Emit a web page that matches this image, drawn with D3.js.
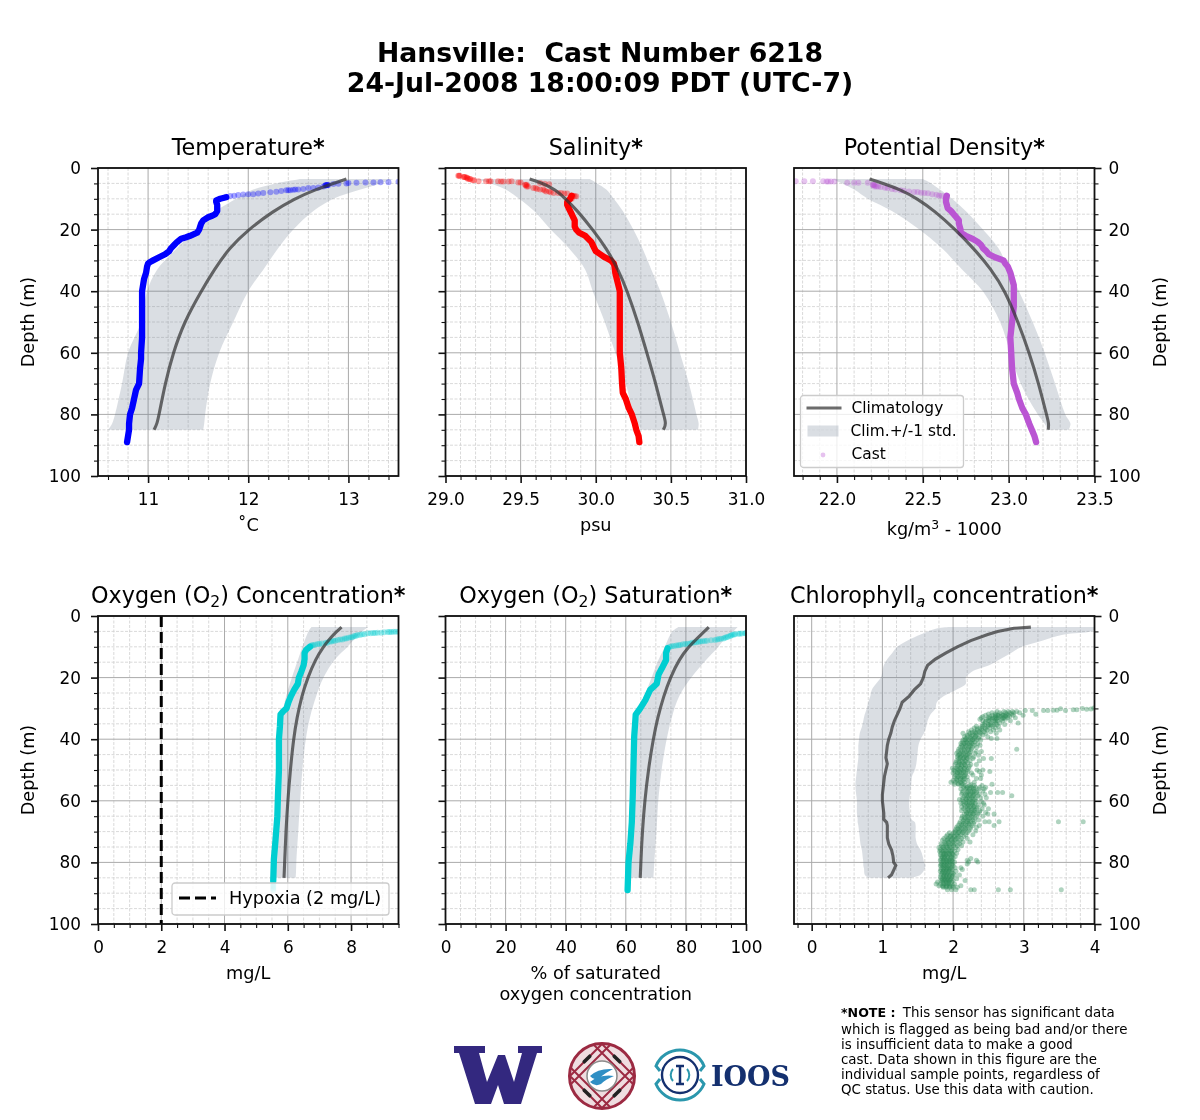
<!DOCTYPE html>
<html>
<head>
<meta charset="utf-8">
<script src="https://cdn.jsdelivr.net/npm/d3@7"></script>
<style>
  body { margin: 0; background: #fff; }
  text { font-family: "DejaVu Sans", sans-serif; fill: #000; }
  .domain { display: none; }
</style>
</head>
<body>
<div id="chart"></div>
<script>
// climatology depths shared by the first five panels
var climDepth = [3.6, 5, 7, 10, 14, 20, 26, 33, 40, 50, 60, 70, 80, 83, 85];

var tempMean = [12.98, 12.85, 12.67, 12.46, 12.25, 12.0, 11.81, 11.66, 11.53, 11.36, 11.25, 11.17, 11.11, 11.09, 11.06];
var tempLow = [12.52, 12.28, 12.05, 11.88, 11.68, 11.48, 11.29, 11.09, 10.99, 10.93, 10.8, 10.74, 10.67, 10.64, 10.6];
var tempHigh = [13.45, 13.32, 13.12, 12.85, 12.65, 12.45, 12.3, 12.15, 12.0, 11.85, 11.71, 11.62, 11.57, 11.56, 11.55];
var tempCastDepth = [9.5, 10, 10.5, 11, 12, 14, 15, 15.5, 16, 17, 18, 19, 20, 21, 22, 22.5, 23, 24, 25, 26, 27, 28, 29, 30, 30.5, 31, 32, 34, 36, 38, 40, 45, 50, 55, 60, 62, 65, 70, 72, 75, 78, 80, 83, 85, 87, 89];
var tempCast = [11.78, 11.72, 11.68, 11.68, 11.69, 11.69, 11.67, 11.64, 11.6, 11.55, 11.53, 11.52, 11.51, 11.49, 11.42, 11.38, 11.33, 11.29, 11.26, 11.23, 11.21, 11.17, 11.11, 11.05, 11.02, 11.0, 10.99, 10.98, 10.96, 10.95, 10.94, 10.94, 10.94, 10.94, 10.93, 10.93, 10.92, 10.91, 10.88, 10.86, 10.84, 10.82, 10.81, 10.81, 10.8, 10.79];
var tempSurfDepth = [4.5, 4.6, 4.6, 4.7, 4.7, 4.8, 4.9, 5, 5.1, 5.2, 5.5, 5.5, 5.5, 5.6, 5.6, 5.6, 5.7, 6, 6.3, 6.5, 6.5, 6.8, 7, 7, 7.1, 7.2, 7.2, 7.2, 7.5, 7.7, 7.9, 8.1, 8.3, 8.5, 8.5, 8.6, 8.8, 9, 9.1, 9.3];
var tempSurf = [13.5, 13.4, 13.32, 13.25, 13.17, 13.08, 13.0, 12.98, 12.9, 12.85, 12.8, 12.79, 12.79, 12.78, 12.78, 12.77, 12.77, 12.75, 12.7, 12.65, 12.6, 12.55, 12.5, 12.47, 12.45, 12.42, 12.4, 12.38, 12.33, 12.28, 12.22, 12.15, 12.1, 12.05, 12.0, 11.95, 11.9, 11.86, 11.82, 11.78];

var salMean = [29.56, 29.65, 29.73, 29.8, 29.88, 29.98, 30.07, 30.15, 30.21, 30.28, 30.34, 30.4, 30.45, 30.47, 30.45];
var salLow = [29.2, 29.3, 29.4, 29.49, 29.59, 29.7, 29.82, 29.93, 29.98, 30.06, 30.13, 30.2, 30.25, 30.28, 30.3];
var salHigh = [29.96, 30.01, 30.07, 30.12, 30.18, 30.25, 30.31, 30.37, 30.43, 30.5, 30.56, 30.62, 30.67, 30.685, 30.68];
var salCastDepth = [9, 10, 11, 12, 13, 14, 15, 16, 17, 18, 19, 20, 21, 22, 23, 24, 25, 26, 27, 28, 29, 30, 31, 32, 34, 36, 38, 40, 45, 50, 55, 60, 65, 70, 73, 75, 78, 80, 83, 85, 87, 89];
var salCast = [29.84, 29.83, 29.81, 29.81, 29.82, 29.83, 29.84, 29.85, 29.86, 29.86, 29.86, 29.87, 29.89, 29.93, 29.95, 29.97, 29.98, 29.99, 30.0, 30.03, 30.06, 30.1, 30.12, 30.125, 30.13, 30.14, 30.15, 30.16, 30.16, 30.16, 30.16, 30.16, 30.17, 30.175, 30.18, 30.2, 30.22, 30.24, 30.26, 30.27, 30.285, 30.29];
var salSurfDepth = [2.5, 2.5, 2.5, 2.9, 2.9, 2.9, 3.2, 3.2, 3.6, 3.6, 3.6, 4, 4, 4.3, 4.3, 4.3, 4.3, 4.3, 4.4, 4.4, 4.4, 4.3, 4.7, 4.7, 5.4, 5.4, 5.6, 6, 6, 6.5, 6.5, 6.8, 4.9, 5.1, 5.3, 7, 7, 7.3, 7.6, 7.6, 7.9, 8.1, 8.1, 8.1, 8.3, 8.3, 9, 9, 9.2, 9.2, 10];
var salSurf = [29.085, 29.09, 29.095, 29.12, 29.125, 29.13, 29.14, 29.145, 29.15, 29.16, 29.165, 29.18, 29.19, 29.22, 29.27, 29.29, 29.3, 29.35, 29.37, 29.385, 29.42, 29.44, 29.485, 29.5, 29.53, 29.54, 29.535, 29.54, 29.55, 29.585, 29.6, 29.61, 29.63, 29.66, 29.69, 29.63, 29.65, 29.66, 29.67, 29.69, 29.7, 29.72, 29.75, 29.77, 29.79, 29.81, 29.84, 29.85, 29.87, 29.86, 29.84];

var denMean = [22.19, 22.27, 22.37, 22.47, 22.57, 22.69, 22.795, 22.9, 22.98, 23.055, 23.12, 23.175, 23.22, 23.235, 23.23];
var denLow = [21.97, 22.03, 22.1, 22.18, 22.32, 22.48, 22.61, 22.73, 22.85, 22.95, 23.01, 23.07, 23.17, 23.21, 23.23];
var denHigh = [22.5, 22.55, 22.6, 22.67, 22.75, 22.85, 22.94, 23.0, 23.06, 23.14, 23.21, 23.27, 23.33, 23.36, 23.35];
var denCastDepth = [9, 10, 11, 12, 13, 14, 15, 16, 17, 18, 19, 20, 21, 22, 23, 24, 25, 26, 27, 28, 29, 30, 31, 32, 34, 36, 38, 40, 45, 50, 55, 60, 65, 70, 73, 75, 78, 80, 83, 85, 87, 89];
var denCast = [22.64, 22.635, 22.635, 22.64, 22.645, 22.665, 22.68, 22.695, 22.71, 22.71, 22.715, 22.72, 22.72, 22.75, 22.79, 22.82, 22.84, 22.85, 22.87, 22.885, 22.92, 22.97, 22.98, 22.995, 23.01, 23.02, 23.03, 23.03, 23.03, 23.02, 23.01, 23.015, 23.02, 23.03, 23.05, 23.06, 23.08, 23.1, 23.12, 23.135, 23.15, 23.16];
var denSurfDepth = [4.3, 4.3, 4.3, 4.3, 4.4, 4.4, 4.4, 4.4, 4.8, 4.8, 4.8, 4.8, 5.4, 5.4, 5.6, 5.6, 6, 6, 6, 6.2, 6.4, 6.5, 6.8, 7, 7.2, 7.4, 7.6, 7.8, 7.8, 8, 8.1, 8.2, 8.5, 8.7, 9, 9, 9.2, 9.2];
var denSurf = [21.76, 21.81, 21.86, 21.92, 21.94, 21.95, 21.965, 21.985, 22.06, 22.1, 22.125, 22.18, 22.21, 22.215, 22.21, 22.22, 22.22, 22.23, 22.24, 22.255, 22.28, 22.295, 22.32, 22.34, 22.37, 22.39, 22.42, 22.45, 22.47, 22.49, 22.51, 22.53, 22.555, 22.58, 22.595, 22.61, 22.635, 22.64];

var o2Mean = [7.7, 7.55, 7.36, 7.12, 6.88, 6.63, 6.44, 6.29, 6.18, 6.08, 6.0, 5.94, 5.9, 5.89, 5.88];
var o2Low = [6.75, 6.65, 6.57, 6.46, 6.33, 6.13, 5.95, 5.8, 5.71, 5.66, 5.61, 5.56, 5.5, 5.5, 5.5];
var o2High = [8.55, 8.35, 8.15, 7.89, 7.5, 7.13, 6.9, 6.7, 6.57, 6.46, 6.39, 6.33, 6.27, 6.26, 6.25];
var o2CastDepth = [10, 11, 12, 14, 16, 18, 20, 22, 24, 26, 28, 30, 31, 32, 34, 36, 40, 50, 58, 65, 73, 79, 86];
var o2Cast = [6.7, 6.58, 6.53, 6.53, 6.5, 6.43, 6.35, 6.32, 6.2, 6.1, 6.02, 5.96, 5.85, 5.77, 5.76, 5.75, 5.72, 5.72, 5.69, 5.67, 5.61, 5.56, 5.54];
var o2SurfDepth = [5.1, 5.1, 5.1, 5.2, 5.2, 5.2, 5.3, 5.4, 5.4, 5.5, 5.5, 5.6, 5.6, 5.9, 5.9, 6.2, 6.2, 6.5, 6.5, 6.9, 6.9, 7.1, 7.3, 7.3, 7.6, 7.6, 7.8, 8, 8, 8.3, 8.3, 8.7, 8.7, 8.9, 9.1, 9.1, 9.3, 9.5, 9.5, 9.7, 86.5, 87, 87.5, 88, 88.5, 89];
var o2Surf = [9.5, 9.42, 9.35, 9.28, 9.22, 9.16, 9.05, 8.95, 8.84, 8.76, 8.7, 8.62, 8.53, 8.42, 8.35, 8.28, 8.2, 8.15, 8.1, 8.04, 7.99, 7.92, 7.85, 7.8, 7.73, 7.66, 7.58, 7.5, 7.44, 7.38, 7.33, 7.25, 7.2, 7.08, 7.0, 6.94, 6.86, 6.8, 6.76, 6.72, 5.54, 5.54, 5.54, 5.54, 5.54, 5.54];

var satMean = [87.6, 86.2, 84.0, 80.9, 77.8, 74.8, 72.6, 70.6, 69.1, 67.5, 66.3, 65.5, 65.0, 64.9, 64.8];
var satLow = [77.5, 75.5, 74.3, 73, 71, 68.6, 66.3, 64.2, 63, 62.1, 61.6, 61.1, 60.7, 60.6, 60.6];
var satHigh = [97.2, 95.8, 93.3, 90.8, 87, 81.8, 77.8, 75.3, 73.6, 71.9, 70.8, 70.2, 69.5, 69.3, 69.2];
var satCastDepth = [10.5, 12, 14.3, 17, 19, 22, 24, 27.3, 30, 32, 35, 39, 46.8, 58.7, 67, 74, 80, 89];
var satCast = [73.9, 73.4, 73.4, 72, 70.9, 70.3, 68.1, 66.5, 64.8, 63.3, 63.1, 62.8, 62.6, 62.3, 62, 61.5, 60.9, 60.6];
var satSurfDepth = [5.6, 5.6, 5.7, 5.8, 5.8, 5.9, 6, 6.1, 6.3, 6.5, 6.7, 6.9, 7.1, 7.3, 7.4, 7.5, 7.6, 7.8, 7.9, 8, 8.1, 8.2, 8.3, 8.4, 8.5, 8.6, 8.7, 8.9, 9, 9.1, 9.2, 9.4, 9.5, 9.6, 9.7, 9.8, 10];
var satSurf = [100, 99.7, 98.6, 98, 97.5, 96.4, 96, 95.5, 95, 94.7, 94, 93.5, 93, 92.5, 91.7, 91, 90.4, 89.7, 88.4, 87, 86.3, 85.5, 84.8, 84.2, 83.5, 82.8, 82.1, 81.4, 80.6, 79.8, 79, 78.1, 77.5, 76.8, 76, 75.3, 74.6];

var chlClimDepth = [3.6, 4, 5, 6, 8, 10, 12, 14, 16, 18, 20, 22, 24, 26, 28, 30, 32, 34, 36, 38, 40, 42, 44, 46, 48, 50, 52, 54, 56, 58, 60, 62, 64, 66, 67, 68, 70, 72, 74, 76, 78, 80, 81, 82, 84, 85];
var chlMean = [3.1, 2.86, 2.63, 2.49, 2.25, 2.06, 1.9, 1.75, 1.64, 1.6, 1.58, 1.54, 1.45, 1.38, 1.28, 1.25, 1.21, 1.17, 1.14, 1.12, 1.09, 1.07, 1.06, 1.05, 1.07, 1.05, 1.03, 1.02, 1.01, 1.0, 1.0, 1.01, 1.02, 1.02, 1.06, 1.07, 1.07, 1.07, 1.09, 1.13, 1.15, 1.16, 1.19, 1.17, 1.13, 1.08];
var chlLow = [1.95, 1.78, 1.64, 1.54, 1.35, 1.21, 1.14, 1.07, 1.02, 1.0, 0.98, 0.91, 0.85, 0.83, 0.8, 0.78, 0.75, 0.73, 0.71, 0.68, 0.67, 0.66, 0.66, 0.66, 0.65, 0.64, 0.63, 0.62, 0.62, 0.63, 0.64, 0.64, 0.64, 0.65, 0.65, 0.66, 0.67, 0.68, 0.69, 0.71, 0.72, 0.73, 0.73, 0.74, 0.75, 0.8];
var chlHigh = [4.1, 4.05, 3.95, 3.57, 3.26, 2.97, 2.82, 2.67, 2.51, 2.27, 2.18, 2.18, 2.04, 1.87, 1.77, 1.75, 1.68, 1.64, 1.62, 1.59, 1.54, 1.51, 1.5, 1.49, 1.48, 1.46, 1.42, 1.41, 1.4, 1.39, 1.38, 1.38, 1.39, 1.41, 1.46, 1.47, 1.47, 1.47, 1.49, 1.54, 1.57, 1.59, 1.61, 1.6, 1.54, 1.4];

// chlorophyll samples: depth first, then the values at that depth
var chlSamples = [
  [30.7, 3.02, 3.12, 3.28, 3.34], [31.9, 3.17], [30.6, 3.42, 3.47], [30.1, 3.52], [30.7, 3.59], [30.4, 3.7, 3.75], [30, 3.83], [30.3, 3.89], [29.9, 3.99], [30.2, 3.95],
  [31, 2.62, 2.72, 2.78, 2.84, 2.9], [31.4, 2.55, 2.66, 2.74, 2.8, 2.86, 2.94], [31.8, 2.5, 2.6, 2.68, 2.76, 2.83], [32.2, 2.46, 2.56, 2.63, 2.71, 2.78, 2.85, 2.99],
  [32.6, 2.42, 2.52, 2.6, 2.67, 2.74, 2.8], [33, 2.4, 2.5, 2.56, 2.64, 2.72, 2.77, 2.88], [33.5, 2.38, 2.47, 2.55, 2.61, 2.68, 2.74], [34, 2.42, 2.5, 2.58, 2.63, 2.7, 2.81],
  [34.7, 2.45, 2.53, 2.6, 2.66, 2.92], [35.2, 2.42, 2.5, 2.57, 2.62, 2.73], [35.8, 2.33, 2.41, 2.49, 2.56, 2.64], [36.4, 2.3, 2.38, 2.45, 2.52, 2.6], [37, 2.26, 2.34, 2.41, 2.48, 2.57, 2.66],
  [37.6, 2.22, 2.3, 2.37, 2.44, 2.53], [38.1, 2.14, 2.24, 2.32, 2.39, 2.46, 2.61], [38.6, 2.2, 2.27, 2.33, 2.42], [39.2, 2.16, 2.24, 2.31, 2.37, 2.49], [39.8, 2.18, 2.25, 2.3, 2.36, 2.54, 2.62],
  [40.3, 2.14, 2.2, 2.27, 2.33, 2.39], [40.9, 2.13, 2.19, 2.25, 2.31], [41.4, 2.11, 2.17, 2.23, 2.28, 2.35], [42, 2.12, 2.18, 2.24, 2.3, 2.38], [42.6, 2.1, 2.16, 2.22, 2.27, 2.33], [43.3, 2.08, 2.15, 2.21, 2.26, 2.9],
  [44, 2.07, 2.13, 2.19, 2.25, 2.33, 2.4], [44.6, 2.05, 2.11, 2.17, 2.23, 2.31], [45.2, 2.07, 2.12, 2.18, 2.24, 2.36], [45.8, 2.06, 2.1, 2.16, 2.22, 2.29], [46.3, 2.08, 2.14, 2.2, 2.28, 2.43, 2.54], [47, 2.05, 2.11, 2.17, 2.24, 2.37],
  [47.6, 2.04, 2.09, 2.15, 2.21], [48.2, 2.03, 2.1, 2.16, 2.25, 2.33], [48.8, 2.06, 2.12, 2.18, 2.23], [49.4, 1.99, 2.04, 2.1, 2.16, 2.22], [50, 2.01, 2.07, 2.13, 2.2, 2.34, 2.42], [50.5, 2.03, 2.09, 2.15, 2.21, 2.37, 2.52],
  [51, 2.0, 2.06, 2.12, 2.18, 2.26], [51.6, 2.04, 2.1, 2.17, 2.28, 2.4], [52.2, 2.02, 2.08, 2.14, 2.2], [52.8, 2.05, 2.11, 2.16, 2.33, 2.39], [53.4, 2.0, 2.06, 2.13, 2.21], [54, 1.97, 2.03, 2.1, 2.16, 2.3],
  [54.6, 2.02, 2.08, 2.14, 2.25, 2.55], [55, 2.12, 2.18, 2.24, 2.3, 2.41], [55.6, 2.15, 2.2, 2.26, 2.32, 2.38, 2.46], [56.2, 2.11, 2.17, 2.23, 2.29, 2.36, 2.44], [56.8, 2.14, 2.22, 2.28, 2.34, 2.42], [57.3, 2.13, 2.2, 2.27, 2.33, 2.53, 2.63, 2.7],
  [57.9, 2.12, 2.18, 2.24, 2.3, 2.37, 2.45], [58.4, 2.16, 2.22, 2.28, 2.35, 2.83], [59, 2.14, 2.2, 2.26, 2.32, 2.39, 2.47], [59.6, 2.09, 2.13, 2.19, 2.25, 2.31], [60.2, 2.15, 2.21, 2.27, 2.33, 2.4], [60.8, 2.11, 2.14, 2.2, 2.26, 2.31, 2.43],
  [61.4, 2.16, 2.22, 2.28, 2.36, 2.44], [62, 2.12, 2.17, 2.23, 2.29, 2.34], [62.6, 2.15, 2.21, 2.27, 2.33, 2.41, 2.5], [63.2, 2.12, 2.18, 2.24, 2.3, 2.38], [63.8, 2.19, 2.25, 2.31, 2.37, 2.46], [64.3, 2.16, 2.22, 2.28, 2.35, 2.49, 2.58],
  [65, 2.13, 2.2, 2.26, 2.33, 2.42], [65.6, 2.12, 2.18, 2.24, 2.31], [66.2, 2.15, 2.21, 2.28, 2.36], [66.8, 2.1, 2.17, 2.23, 2.3, 2.45, 2.51, 2.65, 3.49, 3.84], [67.4, 2.09, 2.15, 2.22, 2.29], [68, 2.07, 2.13, 2.2, 2.27, 2.37, 2.58],
  [68.6, 2.05, 2.11, 2.18, 2.25, 2.33], [69.2, 2.04, 2.1, 2.17, 2.24], [69.8, 2.03, 2.09, 2.15, 2.22, 2.32], [70.4, 1.95, 2.01, 2.07, 2.13, 2.2], [71, 1.92, 1.98, 2.05, 2.11, 2.18, 2.28], [71.6, 1.9, 1.96, 2.02, 2.08, 2.15],
  [72.2, 1.87, 1.93, 1.99, 2.05, 2.12, 2.2], [72.8, 1.85, 1.92, 1.98, 2.04, 2.1], [73.4, 1.88, 1.94, 2.0, 2.07, 2.14, 2.24], [74, 1.83, 1.9, 1.96, 2.02, 2.09], [74.6, 1.84, 1.9, 1.95, 2.01, 2.06, 2.12],
  [75.2, 1.8, 1.86, 1.92, 1.98, 2.04], [75.8, 1.82, 1.87, 1.93, 1.99, 2.07], [76.4, 1.81, 1.86, 1.91, 1.96, 2.02], [77, 1.83, 1.88, 1.93, 1.98, 2.05], [77.5, 1.82, 1.86, 1.9, 1.95, 2.0], [78.1, 1.84, 1.88, 1.92, 1.97, 2.03],
  [78.7, 1.83, 1.87, 1.91, 1.96, 2.0, 2.25], [79.3, 1.82, 1.86, 1.9, 1.94, 1.98, 2.2, 2.33], [79.9, 1.84, 1.88, 1.92, 1.96, 2.02, 2.22, 2.35], [80.5, 1.83, 1.87, 1.91, 1.95, 1.99, 2.2], [81.1, 1.82, 1.86, 1.9, 1.94, 2.0],
  [81.7, 1.84, 1.88, 1.92, 1.97, 2.03, 2.11], [82.3, 1.83, 1.87, 1.91, 1.95, 1.99, 2.13], [82.9, 1.82, 1.86, 1.9, 1.94, 2.04], [83.5, 1.84, 1.88, 1.92, 1.96, 2.0], [84.1, 1.83, 1.87, 1.91, 1.95, 2.02, 2.09],
  [84.7, 1.82, 1.86, 1.9, 1.94, 1.98], [85.3, 1.84, 1.88, 1.92, 1.97, 2.05], [85.9, 1.83, 1.87, 1.91, 1.95, 2.0, 2.17], [86.4, 1.78, 1.85, 1.9, 1.94, 1.98], [87, 1.76, 1.82, 1.87, 1.92, 1.96, 2.02],
  [87.6, 1.8, 1.85, 1.9, 1.95, 2.0, 2.11], [88.1, 1.86, 1.9, 1.95, 2.0, 2.06], [88.9, 1.92, 1.98, 2.04, 2.25, 2.3, 2.64, 2.81, 3.53],
  // the dark core of the cloud, where many samples sit on top of each other
  [32.3, 2.6, 2.64, 2.7, 2.74], [33.2, 2.52, 2.58, 2.62, 2.7], [34.2, 2.46, 2.52, 2.6], [35.4, 2.44, 2.5, 2.54], [36.6, 2.34, 2.4, 2.46], [37.8, 2.27, 2.32, 2.38], [39, 2.2, 2.26, 2.32], [40.2, 2.17, 2.22, 2.28],
  [41.2, 2.15, 2.2, 2.26], [42.4, 2.13, 2.18, 2.24], [43.6, 2.11, 2.16, 2.22], [44.8, 2.09, 2.14, 2.2], [46, 2.1, 2.15, 2.19], [47.2, 2.08, 2.13, 2.18], [48.4, 2.08, 2.12, 2.17], [49.6, 2.06, 2.11, 2.16],
  [50.8, 2.06, 2.1, 2.15], [52, 2.06, 2.11, 2.16], [53.2, 2.05, 2.1, 2.15], [54.4, 2.07, 2.12], [55.8, 2.19, 2.24, 2.29], [57, 2.2, 2.25, 2.3], [58.2, 2.19, 2.24, 2.29], [59.4, 2.18, 2.23, 2.28],
  [60.6, 2.18, 2.23, 2.28], [61.8, 2.2, 2.25, 2.3], [63, 2.21, 2.26, 2.31], [64.2, 2.19, 2.24, 2.29], [65.4, 2.16, 2.21, 2.27], [66.6, 2.14, 2.2, 2.25], [67.8, 2.12, 2.17, 2.23], [69, 2.07, 2.12, 2.18],
  [70.2, 2.03, 2.08, 2.14], [71.4, 1.96, 2.01, 2.07], [72.6, 1.92, 1.97, 2.03], [73.8, 1.89, 1.94, 2.0], [75, 1.86, 1.91, 1.96], [76.2, 1.84, 1.89, 1.94, 1.98], [77.2, 1.87, 1.9, 1.95, 1.99], [78.4, 1.85, 1.88, 1.93, 1.98],
  [79.6, 1.86, 1.91, 1.95, 1.99], [80.8, 1.84, 1.88, 1.92, 1.98], [82, 1.86, 1.9, 1.94, 1.96], [83.2, 1.85, 1.89, 1.93, 1.98], [84.4, 1.87, 1.9, 1.95, 1.99], [85.6, 1.85, 1.89, 1.93, 1.96], [86.8, 1.86, 1.9, 1.94], [87.8, 1.86, 1.91, 1.96]
];

var depthTicks = [0, 20, 40, 60, 80, 100];
var depthMinor = [5, 10, 15, 25, 30, 35, 45, 50, 55, 65, 70, 75, 85, 90, 95];

var tempTicks = [11, 12, 13];
var tempMinor = [10.6, 10.8, 11.2, 11.4, 11.6, 11.8, 12.2, 12.4, 12.6, 12.8, 13.2, 13.4];
var salTicks = [29, 29.5, 30, 30.5, 31];
var salMinor = [29.1, 29.2, 29.3, 29.4, 29.6, 29.7, 29.8, 29.9, 30.1, 30.2, 30.3, 30.4, 30.6, 30.7, 30.8, 30.9];
var denTicks = [22, 22.5, 23, 23.5];
var denMinor = [21.8, 21.9, 22.1, 22.2, 22.3, 22.4, 22.6, 22.7, 22.8, 22.9, 23.1, 23.2, 23.3, 23.4];
var o2Ticks = [0, 2, 4, 6, 8];
var o2Minor = [0.5, 1, 1.5, 2.5, 3, 3.5, 4.5, 5, 5.5, 6.5, 7, 7.5, 8.5, 9, 9.5];
var satTicks = [0, 20, 40, 60, 80, 100];
var satMinor = [5, 10, 15, 25, 30, 35, 45, 50, 55, 65, 70, 75, 85, 90, 95];
var chlTicks = [0, 1, 2, 3, 4];
var chlMinor = [-0.2, 0.2, 0.4, 0.6, 0.8, 1.2, 1.4, 1.6, 1.8, 2.2, 2.4, 2.6, 2.8, 3.2, 3.4, 3.6, 3.8];

var noteLines = ["This sensor has significant data", "which is flagged as being bad and/or there", "is insufficient data to make a good", "cast. Data shown in this figure are the", "individual sample points, regardless of", "QC status. Use this data with caution."];

var svgWidth = 1200;
var svgHeight = 1120;
var chartWidth = 300.5;
var chartHeight = 308;

var svg = d3.select("#chart").append("svg")
  .attr("width", svgWidth)
  .attr("height", svgHeight)
  .style("display", "block")
  .style("filter", "blur(0.3px)");

svg.append("text").attr("x", 600).attr("y", 62).attr("text-anchor", "middle")
  .style("font-size", "26.7px").style("font-weight", "bold").style("white-space", "pre")
  .text("Hansville:  Cast Number 6218");
svg.append("text").attr("x", 600).attr("y", 92).attr("text-anchor", "middle")
  .style("font-size", "26.7px").style("font-weight", "bold")
  .text("24-Jul-2008 18:00:09 PDT (UTC-7)");

var climColor = "#333333";
var shadeColor = "#6b7a8f";

function drawPanel(p, i) {
  var g = svg.append("g").attr("transform", `translate(${p.left}, ${p.top})`);
  var x = d3.scaleLinear().domain(p.domain).range([0, chartWidth]);
  var y = d3.scaleLinear().domain([0, 100]).range([0, chartHeight]);

  g.append("clipPath").attr("id", "clip" + i).append("rect")
    .attr("width", chartWidth).attr("height", chartHeight);

  // grid
  g.selectAll(".minorx").data(p.minor).enter().append("line")
    .attr("x1", d => x(d)).attr("x2", d => x(d)).attr("y1", 0).attr("y2", chartHeight)
    .attr("stroke", "#cfcfcf").attr("stroke-width", 0.8).attr("stroke-dasharray", "3,1.5");
  g.selectAll(".minory").data(depthMinor).enter().append("line")
    .attr("y1", d => y(d)).attr("y2", d => y(d)).attr("x1", 0).attr("x2", chartWidth)
    .attr("stroke", "#cfcfcf").attr("stroke-width", 0.8).attr("stroke-dasharray", "3,1.5");
  g.selectAll(".majorx").data(p.ticks).enter().append("line")
    .attr("x1", d => x(d)).attr("x2", d => x(d)).attr("y1", 0).attr("y2", chartHeight)
    .attr("stroke", "#aaaaaa").attr("stroke-width", 1);
  g.selectAll(".majory").data(depthTicks).enter().append("line")
    .attr("y1", d => y(d)).attr("y2", d => y(d)).attr("x1", 0).attr("x2", chartWidth)
    .attr("stroke", "#aaaaaa").attr("stroke-width", 1);

  var plot = g.append("g").attr("clip-path", `url(#clip${i})`);

  var area = d3.area()
    .y(d => y(d.depth))
    .x0(d => x(d.low))
    .x1(d => x(d.high))
    .curve(d3.curveCatmullRom);
  plot.append("path")
    .datum(p.climDepth.map((d, k) => ({depth: d, low: p.low[k], high: p.high[k]})))
    .attr("d", area)
    .attr("fill", shadeColor).attr("opacity", 0.25);

  if (p.surf) {
    plot.selectAll(".surf").data(p.surf).enter().append("circle")
      .attr("cx", d => x(d)).attr("cy", (d, k) => y(p.surfDepth[k]))
      .attr("r", 3).attr("fill", p.color).attr("opacity", 0.34);
  }
  if (p.cast) {
    plot.append("path")
      .datum(p.cast.map((d, k) => [d, p.castDepth[k]]))
      .attr("d", d3.line().x(d => x(d[0])).y(d => y(d[1])))
      .attr("fill", "none").attr("stroke", p.color)
      .attr("stroke-width", 6.3).attr("stroke-linecap", "round").attr("stroke-linejoin", "round");
  }
  if (p.samples) {
    p.samples.forEach(function(row) {
      plot.selectAll(".s").data(row.slice(1)).enter().append("circle")
        .attr("cx", d => x(d)).attr("cy", y(row[0]))
        .attr("r", 2.5).attr("fill", p.color).attr("opacity", 0.38);
    });
  }

  plot.append("path")
    .datum(p.mean.map((d, k) => [d, p.climDepth[k]]))
    .attr("d", d3.line().x(d => x(d[0])).y(d => y(d[1])).curve(p.samples ? d3.curveLinear : d3.curveBasis))
    .attr("fill", "none").attr("stroke", climColor).attr("stroke-opacity", 0.72).attr("stroke-width", 3.1);

  if (p.hypoxia) {
    plot.append("line")
      .attr("x1", x(p.hypoxia)).attr("x2", x(p.hypoxia)).attr("y1", 0).attr("y2", chartHeight)
      .attr("stroke", "#000").attr("stroke-width", 3).attr("stroke-dasharray", "11,5");
  }

  // axes
  var xAxis = g.append("g").attr("transform", `translate(0, ${chartHeight})`)
    .call(d3.axisBottom(x).tickValues(p.ticks).tickSize(7).tickPadding(10).tickFormat(p.format));
  var xMinor = g.append("g").attr("transform", `translate(0, ${chartHeight})`)
    .call(d3.axisBottom(x).tickValues(p.minor).tickSize(4).tickFormat(""));
  var yMajor = p.side == "right" ? d3.axisRight(y) : d3.axisLeft(y);
  var yMin = p.side == "right" ? d3.axisRight(y) : d3.axisLeft(y);
  var yg = g.append("g").attr("transform", `translate(${p.side == "right" ? chartWidth : 0}, 0)`)
    .call(yMajor.tickValues(depthTicks).tickSize(7).tickPadding(p.side == "right" ? 7 : 10).tickFormat(p.side == "none" ? "" : d3.format("d")));
  var ygm = g.append("g").attr("transform", `translate(${p.side == "right" ? chartWidth : 0}, 0)`)
    .call(yMin.tickValues(depthMinor).tickSize(4).tickFormat(""));

  [xAxis, yg].forEach(a => a.selectAll("text").style("font-size", "16.9px"));
  [xAxis, yg].forEach(a => a.selectAll("line").attr("stroke", "#111").attr("stroke-width", 1.6));
  [xMinor, ygm].forEach(a => a.selectAll("line").attr("stroke", "#111").attr("stroke-width", 1.1));

  g.append("rect").attr("width", chartWidth).attr("height", chartHeight)
    .attr("fill", "none").attr("stroke", "#111").attr("stroke-width", 1.8);

  // title
  var title = g.append("text").attr("x", chartWidth / 2).attr("y", -13)
    .attr("text-anchor", "middle").style("font-size", "22.3px");
  p.title.forEach(function(part) {
    var t = title.append("tspan").text(part.text);
    if (part.sub) t.attr("baseline-shift", "-22%").style("font-size", "15.6px");
    if (part.italic) t.style("font-style", "italic");
    if (part.bold) t.style("font-weight", "bold");
  });

  // x label
  p.xlabel.forEach(function(line, k) {
    var label = g.append("text").attr("x", chartWidth / 2).attr("y", chartHeight + 55 + k * 21 + (p.labelShift || 0))
      .attr("text-anchor", "middle").style("font-size", "17.7px");
    line.forEach(function(part) {
      var t = label.append("tspan").text(part.text);
      if (part.sup) t.attr("baseline-shift", "50%").style("font-size", "12.4px");
    });
  });

  // y label
  if (p.side != "none") {
    var lx = p.side == "right" ? chartWidth + 71 : -64;
    g.append("text").attr("transform", `translate(${lx}, ${chartHeight / 2}) rotate(-90)`)
      .attr("text-anchor", "middle").style("font-size", "17.7px").text("Depth (m)");
  }

  if (p.legend) p.legend(g);
}

var panels = [
  {left: 98, top: 168, domain: [10.5, 13.5], ticks: tempTicks, minor: tempMinor, format: d3.format("d"), side: "left", color: "#0000ff",
   title: [{text: "Temperature"}, {text: "*", bold: true}], xlabel: [[{text: "˚C"}]],
   climDepth: climDepth, mean: tempMean, low: tempLow, high: tempHigh, castDepth: tempCastDepth, cast: tempCast, surfDepth: tempSurfDepth, surf: tempSurf},
  {left: 445.5, top: 168, domain: [29, 31], ticks: salTicks, minor: salMinor, format: d3.format(".1f"), side: "none", color: "#ff0000",
   title: [{text: "Salinity"}, {text: "*", bold: true}], xlabel: [[{text: "psu"}]],
   climDepth: climDepth, mean: salMean, low: salLow, high: salHigh, castDepth: salCastDepth, cast: salCast, surfDepth: salSurfDepth, surf: salSurf},
  {left: 794, top: 168, domain: [21.75, 23.5], ticks: denTicks, minor: denMinor, format: d3.format(".1f"), side: "right", color: "#ba55d3", labelShift: 4,
   title: [{text: "Potential Density"}, {text: "*", bold: true}], xlabel: [[{text: "kg/m"}, {text: "3", sup: true}, {text: " - 1000"}]],
   climDepth: climDepth, mean: denMean, low: denLow, high: denHigh, castDepth: denCastDepth, cast: denCast, surfDepth: denSurfDepth, surf: denSurf,
   legend: densityLegend},
  {left: 98, top: 616, domain: [0, 9.5], ticks: o2Ticks, minor: o2Minor, format: d3.format("d"), side: "left", color: "#00ced1", hypoxia: 2,
   title: [{text: "Oxygen (O"}, {text: "2", sub: true}, {text: ") Concentration"}, {text: "*", bold: true}], xlabel: [[{text: "mg/L"}]],
   climDepth: climDepth, mean: o2Mean, low: o2Low, high: o2High, castDepth: o2CastDepth, cast: o2Cast, surfDepth: o2SurfDepth, surf: o2Surf,
   legend: hypoxiaLegend},
  {left: 445.5, top: 616, domain: [0, 100], ticks: satTicks, minor: satMinor, format: d3.format("d"), side: "none", color: "#00ced1",
   title: [{text: "Oxygen (O"}, {text: "2", sub: true}, {text: ") Saturation"}, {text: "*", bold: true}], xlabel: [[{text: "% of saturated"}], [{text: "oxygen concentration"}]],
   climDepth: climDepth, mean: satMean, low: satLow, high: satHigh, castDepth: satCastDepth, cast: satCast, surfDepth: satSurfDepth, surf: satSurf},
  {left: 794, top: 616, domain: [-0.25, 4], ticks: chlTicks, minor: chlMinor, format: d3.format("d"), side: "right", color: "#2e8b57",
   title: [{text: "Chlorophyll"}, {text: "a", sub: true, italic: true}, {text: " concentration"}, {text: "*", bold: true}], xlabel: [[{text: "mg/L"}]],
   climDepth: chlClimDepth, mean: chlMean, low: chlLow, high: chlHigh, samples: chlSamples}
];

function densityLegend(g) {
  var box = g.append("g").attr("transform", "translate(6.5, 227.5)");
  box.append("rect").attr("width", 163).attr("height", 72).attr("rx", 3)
    .attr("fill", "#fff").attr("fill-opacity", 0.8).attr("stroke", "#ccc").attr("stroke-width", 1.3);
  box.append("line").attr("x1", 6).attr("x2", 41).attr("y1", 12.5).attr("y2", 12.5)
    .attr("stroke", climColor).attr("stroke-opacity", 0.72).attr("stroke-width", 3.1);
  box.append("rect").attr("x", 7).attr("y", 30).attr("width", 31).attr("height", 11)
    .attr("fill", shadeColor).attr("opacity", 0.25);
  box.append("circle").attr("cx", 22.5).attr("cy", 59.5).attr("r", 2.4)
    .attr("fill", "#ba55d3").attr("opacity", 0.36);
  ["Climatology", "Clim.+/-1 std.", "Cast"].forEach(function(t, k) {
    box.append("text").attr("x", k == 1 ? 50 : 51).attr("y", 17.5 + k * 23).style("font-size", "15.4px").text(t);
  });
}

function hypoxiaLegend(g) {
  var box = g.append("g").attr("transform", "translate(74, 267)");
  box.append("rect").attr("width", 217).attr("height", 32).attr("rx", 3)
    .attr("fill", "#fff").attr("fill-opacity", 0.8).attr("stroke", "#ccc").attr("stroke-width", 1.3);
  box.append("line").attr("x1", 7).attr("x2", 44).attr("y1", 15).attr("y2", 15)
    .attr("stroke", "#000").attr("stroke-width", 3).attr("stroke-dasharray", "11,5");
  box.append("text").attr("x", 57).attr("y", 21).style("font-size", "17.7px").text("Hypoxia (2 mg/L)");
}

panels.forEach(drawPanel);

// note
var note = svg.append("g").attr("transform", "translate(841, 1017)");
var first = note.append("text").attr("y", 0).style("font-size", "13.4px");
first.append("tspan").style("font-weight", "bold").style("font-size", "12.6px").text("*NOTE : ");
first.append("tspan").attr("dx", 3).text(noteLines[0]);
noteLines.slice(1).forEach(function(line, k) {
  note.append("text").attr("y", 16.5 + k * 15.1).style("font-size", "13.4px").text(line);
});

// logos
var logos = svg.append("g").style("filter", "blur(0.6px)");
logos.append("polygon")
  .attr("points", "454,1046 485,1046 485,1053 479,1053 487,1082 498,1055 505,1055 514,1082 522,1053 518,1053 518,1046 542,1046 542,1053 537,1053 521,1104 504,1104 498,1085 491,1104 475,1104 459,1053 454,1053")
  .attr("fill", "#33287f");

var seal = logos.append("g").attr("transform", "translate(602, 1076)");
seal.append("circle").attr("r", 32.5).attr("fill", "#efdde0").attr("stroke", "#9c2a42").attr("stroke-width", 3);
seal.append("path").attr("d", "M0,-32 L32,0 L0,32 L-32,0 Z M-8,-31 L31,8 M8,-31 L-31,8 M-8,31 L31,-8 M8,31 L-31,-8").attr("fill", "none").attr("stroke", "#9c2a42").attr("stroke-width", 2);
[[-15, -17, 45], [15, -17, -45], [-15, 17, -45], [15, 17, 45]].forEach(function(c) {
  seal.append("rect").attr("x", -5.5).attr("y", -1.8).attr("width", 11).attr("height", 3.6).attr("rx", 1.5)
    .attr("fill", "#222").attr("transform", `translate(${c[0]}, ${c[1]}) rotate(${c[2] + 90})`);
});
seal.append("circle").attr("r", 15).attr("fill", "#fff").attr("stroke", "#8a8a8a").attr("stroke-width", 1.5);
seal.append("path").attr("d", "M-12,0 Q-4,-8 11,-7 Q3,-3 -3,2 Q-8,5 -12,0 Z M-12,6 Q-2,-2 12,0 Q4,3 -1,8 Q-7,11 -12,6 Z").attr("fill", "#2f8fc4");

var ioos = logos.append("g").attr("transform", "translate(680, 1075)");
ioos.append("path").attr("d", "M-20,-4 L-24,-9 A26,26 0 0 1 24,-9 L20,-4").attr("fill", "none").attr("stroke", "#2b97ad").attr("stroke-width", 3);
ioos.append("path").attr("d", "M-20,4 L-24,9 A26,26 0 0 0 24,9 L20,4").attr("fill", "none").attr("stroke", "#2b97ad").attr("stroke-width", 3);
ioos.append("circle").attr("r", 18).attr("fill", "#fff").attr("stroke", "#14306f").attr("stroke-width", 2.4);
ioos.append("path").attr("d", "M-7,-6 A9,9 0 0 0 -7,6 M7,-6 A9,9 0 0 1 7,6").attr("fill", "none").attr("stroke", "#2b97ad").attr("stroke-width", 2);
ioos.append("path").attr("d", "M-4,-9 H4 M0,-9 V9 M-4,9 H4").attr("fill", "none").attr("stroke", "#14306f").attr("stroke-width", 2.5);
logos.append("text").attr("x", 711).attr("y", 1086)
  .attr("textLength", 79).attr("lengthAdjust", "spacingAndGlyphs")
  .style("font-family", "'DejaVu Serif', serif").style("font-weight", "bold").style("font-size", "27px").style("fill", "#14306f")
  .text("IOOS");
</script>
</body>
</html>
